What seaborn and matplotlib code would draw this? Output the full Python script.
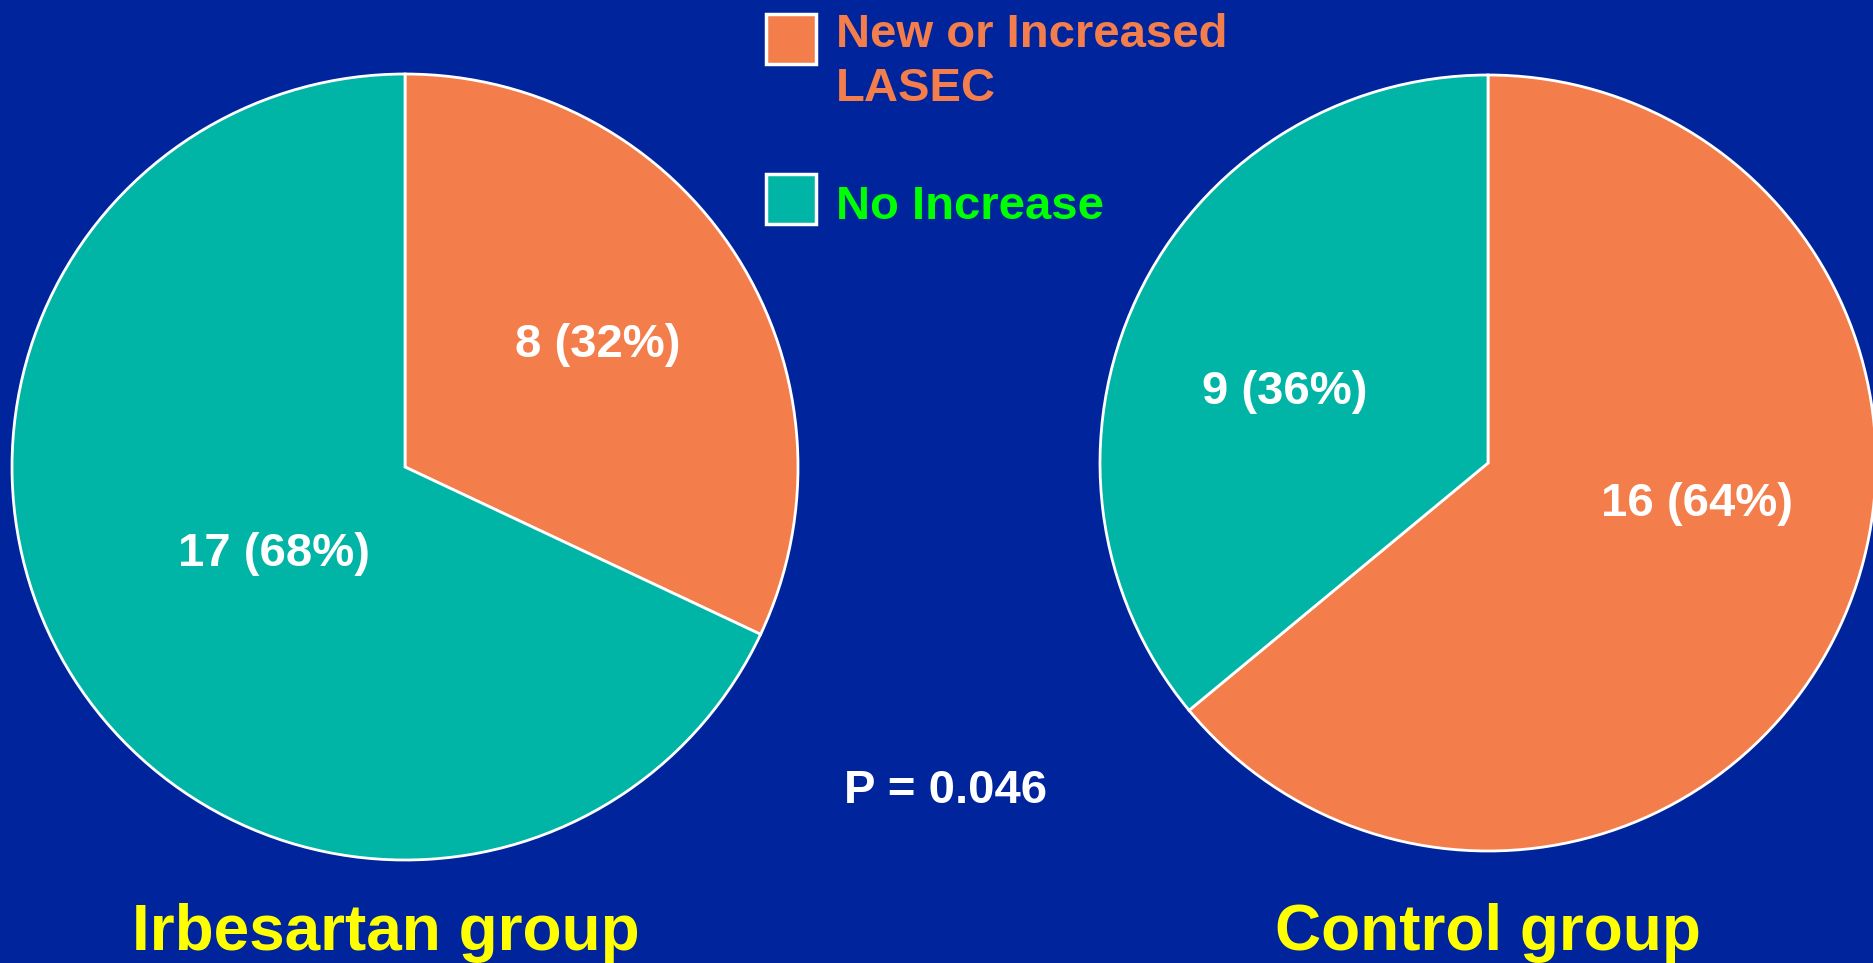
import numpy as np
import matplotlib
matplotlib.use("Agg")
import matplotlib.pyplot as plt
from matplotlib.patches import Rectangle
import seaborn as sns

# Outcome counts per group
categories = ["New or Increased\nLASEC", "No Increase"]
irbesartan_counts = [8, 17]
control_counts = [16, 9]
group_titles = ["Irbesartan group", "Control group"]
p_value_text = "P = 0.046"

BG = "#00249C"
ORANGE = "#F47E4B"
TEAL = "#00B5A5"
slice_colors = [ORANGE, TEAL]
legend_text_colors = [ORANGE, "#00FF00"]
TITLE_COLOR = "#FFFF00"

sns.set_style("white")
plt.rcParams["font.family"] = ["Liberation Sans", "DejaVu Sans"]
plt.rcParams["font.weight"] = "bold"

W, H = 1874, 963
fig = plt.figure(figsize=(W / 100, H / 100), dpi=100, facecolor=BG)


def pie_axes(cx, cy, r):
    """Axes whose unit circle sits at pixel centre (cx, cy) with radius r."""
    ax = fig.add_axes([(cx - r) / W, (H - cy - r) / H, 2 * r / W, 2 * r / H])
    ax.set_facecolor("none")
    return ax


def label(count, total):
    return f"{count} ({round(100 * count / total)}%)"


# pixel centre, radius, title x, and label (angle offset, distance) per slice
layouts = [
    dict(cx=405, cy=467, r=393, tx=386, lab=[(0, 0.58), (1, 0.40)]),
    dict(cx=1488, cy=463, r=388, tx=1488, lab=[(14, 0.55), (6, 0.555)]),
]

for counts, title, lay in zip([irbesartan_counts, control_counts], group_titles, layouts):
    ax = pie_axes(lay["cx"], lay["cy"], lay["r"])
    total = sum(counts)
    wedges, _ = ax.pie(
        counts,
        colors=slice_colors,
        startangle=90,
        counterclock=False,
        radius=1.0,
        wedgeprops=dict(edgecolor="white", linewidth=2),
    )
    ax.set_xlim(-1, 1)
    ax.set_ylim(-1, 1)
    ax.set_aspect("equal")
    ax.axis("off")
    for w, c, (dang, dist) in zip(wedges, counts, lay["lab"]):
        mid = np.deg2rad((w.theta1 + w.theta2) / 2 + dang)
        ax.text(dist * np.cos(mid), dist * np.sin(mid), label(c, total),
                ha="center", va="center", color="white",
                fontsize=34, fontweight="bold")
    fig.text(lay["tx"] / W, 1 - 933 / H, title, ha="center", va="center",
             color=TITLE_COLOR, fontsize=46, fontweight="bold")

# Legend drawn as boxes and coloured labels
box_tops = [14, 174]
text_centers = [62, 207]
for top, tc, col, tcol, name in zip(box_tops, text_centers, slice_colors,
                                    legend_text_colors, categories):
    fig.patches.append(Rectangle((766 / W, 1 - (top + 50) / H), 50 / W, 50 / H,
                                 transform=fig.transFigure, facecolor=col,
                                 edgecolor="white", linewidth=2.5))
    fig.text(836 / W, 1 - tc / H, name, ha="left", va="center", color=tcol,
             fontsize=34, fontweight="bold", linespacing=1.3)

fig.text(946 / W, 1 - 791 / H, p_value_text, ha="center", va="center",
         color="white", fontsize=34, fontweight="bold")

fig.savefig("out.png", dpi=100, facecolor=BG)
